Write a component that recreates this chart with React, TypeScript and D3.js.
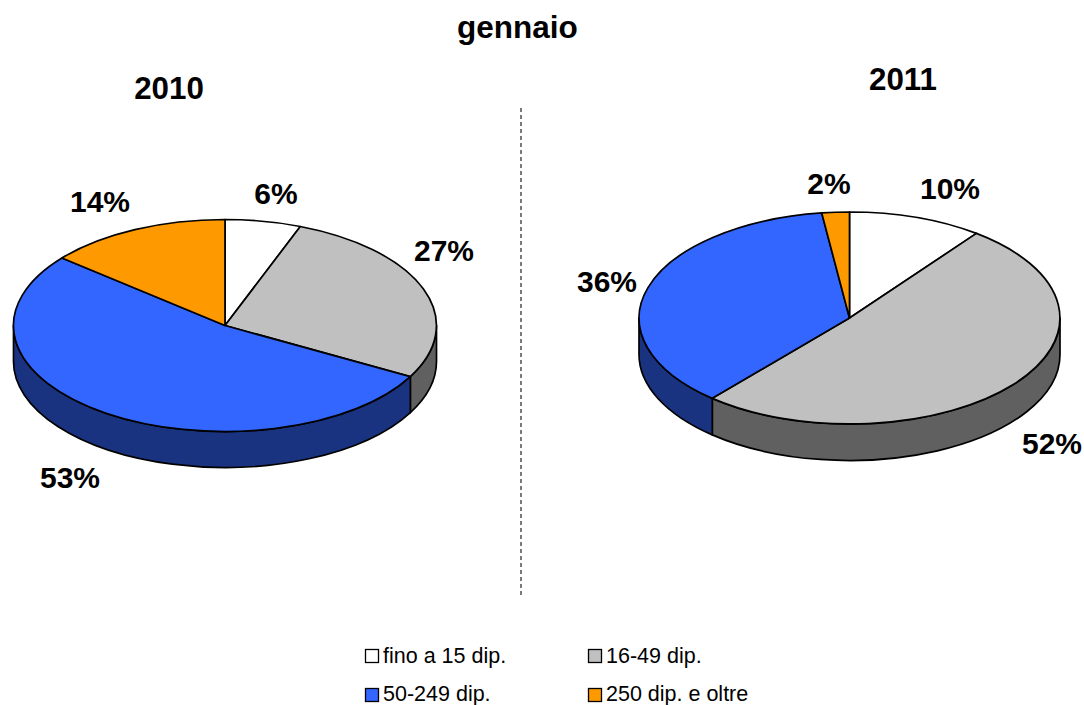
import React from "react";
import * as d3 from "d3";

const categories = ["fino a 15 dip.", "16-49 dip.", "50-249 dip.", "250 dip. e oltre"];
const topColors = ["#ffffff", "#c0c0c0", "#3366ff", "#ff9900"];
const sideColors = ["#808080", "#606060", "#1a3380", "#804c00"];

const title = "gennaio";
const values2010 = [5.8, 27.2, 53, 14];
const labels2010 = ["6%", "27%", "53%", "14%"];
const values2011 = [10.3, 51, 36.6, 2.1];
const labels2011 = ["10%", "52%", "36%", "2%"];

const FONT = "Liberation Sans, Arial, sans-serif";

type PieProps = {
  values: number[];
  labels: string[];
  year: string;
  cx: number;
  cy: number;
  rx: number;
  ry: number;
  depth: number;
  yearPos: [number, number];
  labelPos: [number, number][];
};

function Pie3D({ values, labels, year, cx, cy, rx, ry, depth, yearPos, labelPos }: PieProps) {
  const arcs = d3.pie<number>().sort(null).startAngle(0).endAngle(2 * Math.PI)(values);
  const x = d3.scaleLinear().domain([-1, 1]).range([cx - rx, cx + rx]);
  const y = d3.scaleLinear().domain([-1, 1]).range([cy - ry, cy + ry]);
  const px = (a: number) => x(Math.sin(a));
  const py = (a: number) => y(-Math.cos(a));
  const unitArc = d3.arc<d3.PieArcDatum<number>>().innerRadius(0).outerRadius(1);

  const lo = Math.PI / 2;
  const hi = (3 * Math.PI) / 2;
  const sides = arcs
    .map((a, i) => {
      const s = Math.max(a.startAngle, lo);
      const e = Math.min(a.endAngle, hi);
      if (e <= s) return null;
      const d = [
        `M${px(s)},${py(s)}`,
        `A${rx},${ry} 0 0 1 ${px(e)},${py(e)}`,
        `L${px(e)},${py(e) + depth}`,
        `A${rx},${ry} 0 0 0 ${px(s)},${py(s) + depth}`,
        "Z",
      ].join(" ");
      return <path key={i} d={d} fill={sideColors[i]} stroke="#000" strokeWidth={1.7} strokeLinejoin="round" />;
    })
    .filter(Boolean);

  return (
    <g>
      {sides}
      {arcs.map((a, i) => (
        <path
          key={i}
          d={unitArc(a) ?? ""}
          transform={`translate(${cx},${cy}) scale(${rx},${ry})`}
          fill={topColors[i]}
          stroke="#000"
          strokeWidth={1.7}
          strokeLinejoin="round"
          vectorEffect="non-scaling-stroke"
        />
      ))}
      {labels.map((l, i) => (
        <text
          key={i}
          x={labelPos[i][0]}
          y={labelPos[i][1]}
          textAnchor="middle"
          fontFamily={FONT}
          fontWeight="bold"
          fontSize={30}
          fill="#000"
        >
          {l}
        </text>
      ))}
      <text x={yearPos[0]} y={yearPos[1]} textAnchor="middle" fontFamily={FONT} fontWeight="bold" fontSize={31.3} fill="#000">
        {year}
      </text>
    </g>
  );
}

const legendPos: [number, number][] = [
  [365.5, 649.5],
  [588.5, 649.5],
  [365.5, 688.5],
  [588.5, 688.5],
];
const legendBaselines = [662.5, 662.5, 700.5, 700.5];

export default function App() {
  return (
    <svg
      width={1084}
      height={705}
      viewBox="0 0 1084 705"
      style={{ position: "absolute", left: 0, top: 0, background: "#fff" }}
    >
      <text x={517.5} y={38} textAnchor="middle" fontFamily={FONT} fontWeight="bold" fontSize={31.5} fill="#000">
        {title}
      </text>
      <Pie3D
        values={values2010}
        labels={labels2010}
        year="2010"
        cx={225}
        cy={325.5}
        rx={211.5}
        ry={106}
        depth={36}
        yearPos={[169, 99]}
        labelPos={[
          [276, 204],
          [444, 261],
          [70, 488],
          [100, 212],
        ]}
      />
      <Pie3D
        values={values2011}
        labels={labels2011}
        year="2011"
        cx={849.5}
        cy={318}
        rx={210.5}
        ry={106}
        depth={36.5}
        yearPos={[903, 90]}
        labelPos={[
          [950, 199],
          [1052, 454],
          [607, 292],
          [829, 194],
        ]}
      />
      <line x1={521} y1={108} x2={521} y2={597} stroke="#222" strokeWidth={1.2} strokeDasharray="4 3" />
      {categories.map((c, i) => (
        <g key={c}>
          <rect x={legendPos[i][0]} y={legendPos[i][1]} width={13} height={13} fill={topColors[i]} stroke="#000" strokeWidth={1.3} />
          <text x={legendPos[i][0] + 17.5} y={legendBaselines[i]} fontFamily={FONT} fontSize={21.5} fill="#000">
            {c}
          </text>
        </g>
      ))}
    </svg>
  );
}
